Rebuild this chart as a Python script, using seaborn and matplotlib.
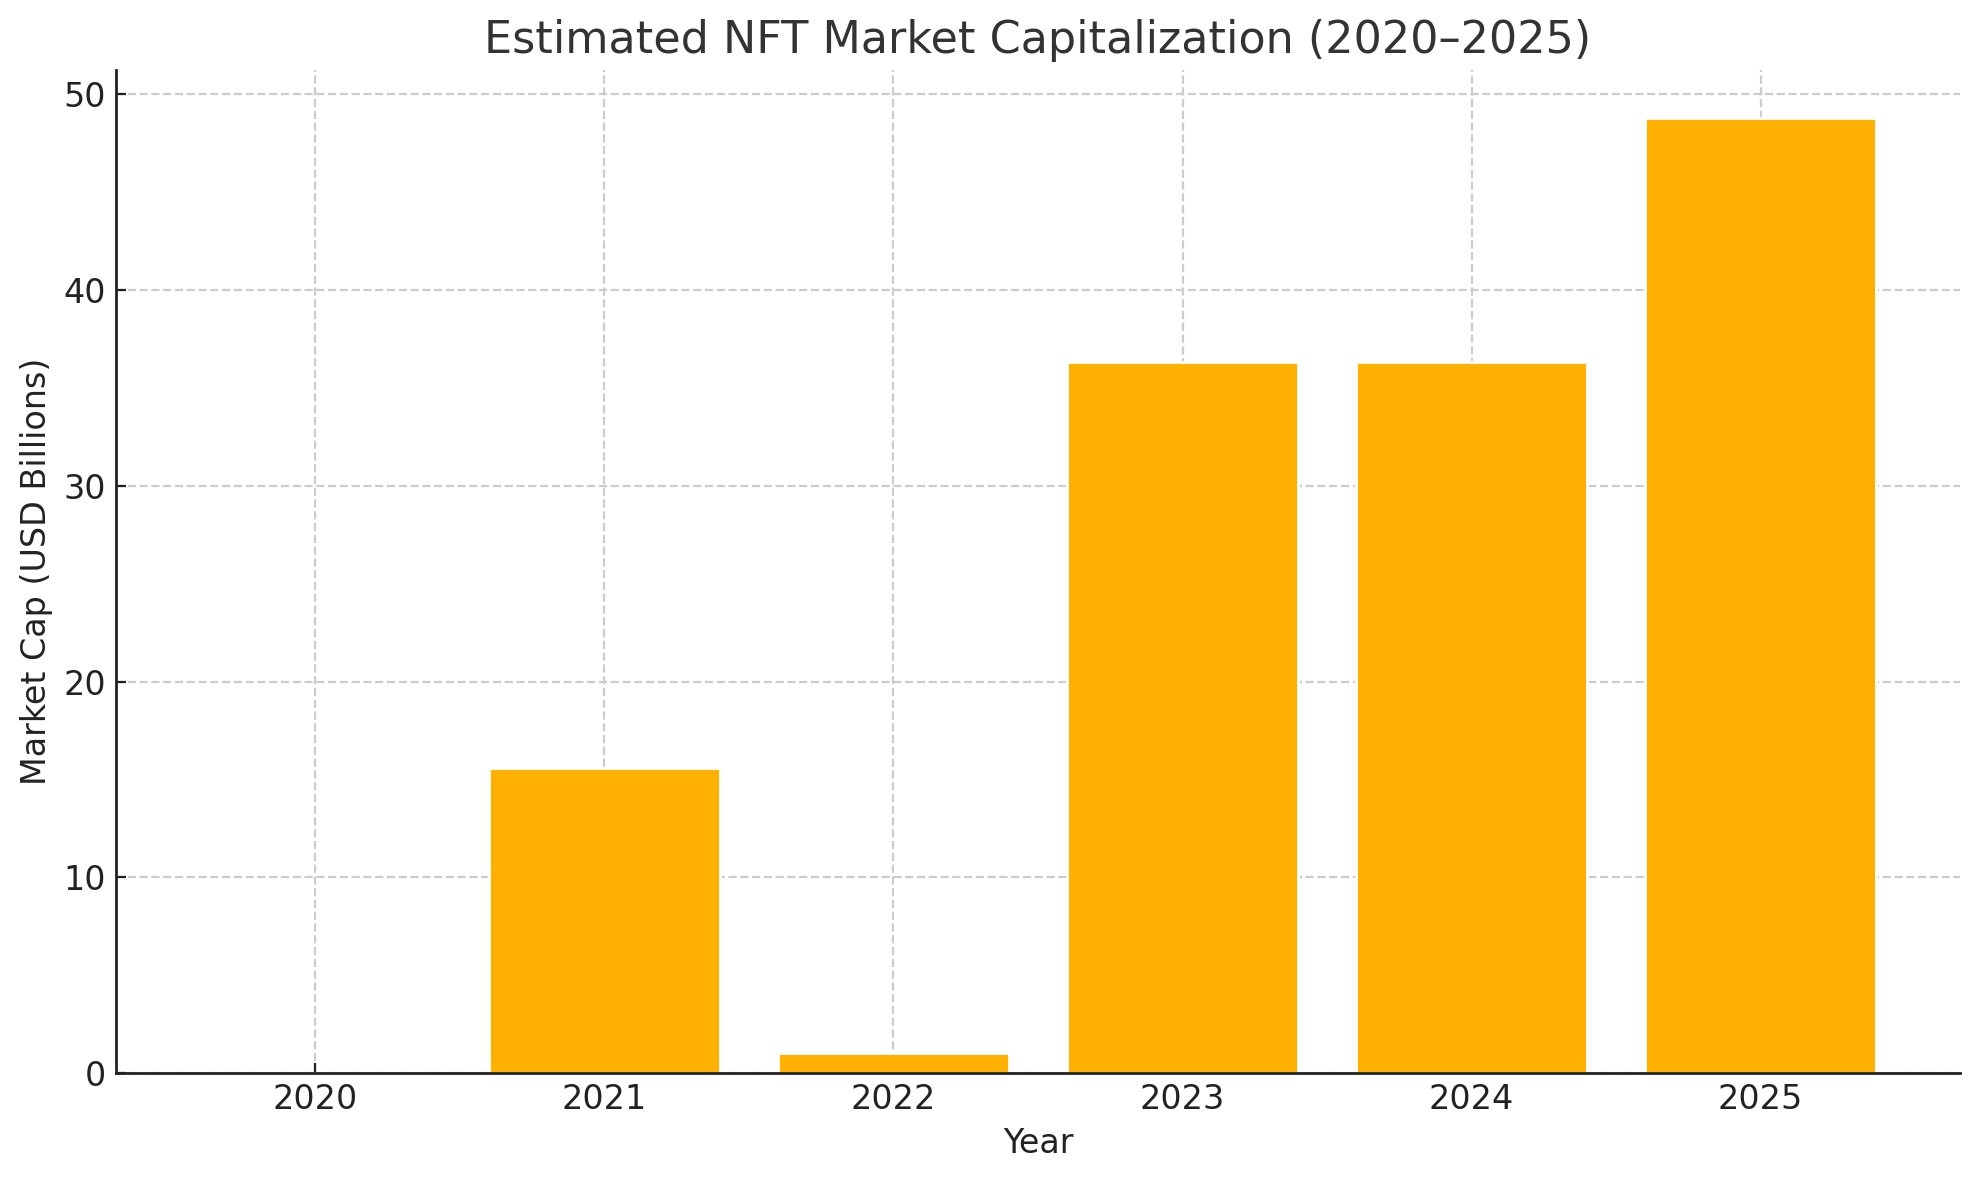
import matplotlib
matplotlib.use("Agg")
import matplotlib.pyplot as plt
import seaborn as sns
import pandas as pd

years = ["2020", "2021", "2022", "2023", "2024", "2025"]
market_cap = [0.0, 15.6, 1.0, 36.3, 36.3, 48.8]

df = pd.DataFrame({"Year": years, "Market Cap": market_cap})

sns.set_style("ticks")
plt.rcParams['font.family'] = ['DejaVu Sans']

fig = plt.figure(figsize=(1979 / 200, 1180 / 200), dpi=200)
ax = fig.add_axes([116 / 1979, 1 - 1073 / 1180, (1960 - 116) / 1979, (1073 - 70) / 1180])

sns.barplot(data=df, x="Year", y="Market Cap", color="#FFB000", saturation=1,
            width=0.8, ax=ax, zorder=2)

ax.set_xlim(-0.69, 5.69)
ax.set_ylim(0, 51.24)
ax.set_yticks([0, 10, 20, 30, 40, 50])
ax.grid(True, linestyle="--", color="#cccccc", linewidth=0.8, zorder=0)
ax.set_axisbelow(True)
for s in ["top", "right"]:
    ax.spines[s].set_visible(False)
for s in ["left", "bottom"]:
    ax.spines[s].set_color("#222222")
    ax.spines[s].set_linewidth(1.0)

ax.set_title("Estimated NFT Market Capitalization (2020–2025)", fontsize=16, color="#333333", pad=6)
ax.set_xlabel("Year", fontsize=12, color="#222222", labelpad=4)
ax.set_ylabel("Market Cap (USD Billions)", fontsize=12, color="#222222", labelpad=4)
ax.tick_params(axis="both", labelsize=12, colors="#222222", direction="in", length=3.5)

fig.savefig("out.png", dpi=200)
